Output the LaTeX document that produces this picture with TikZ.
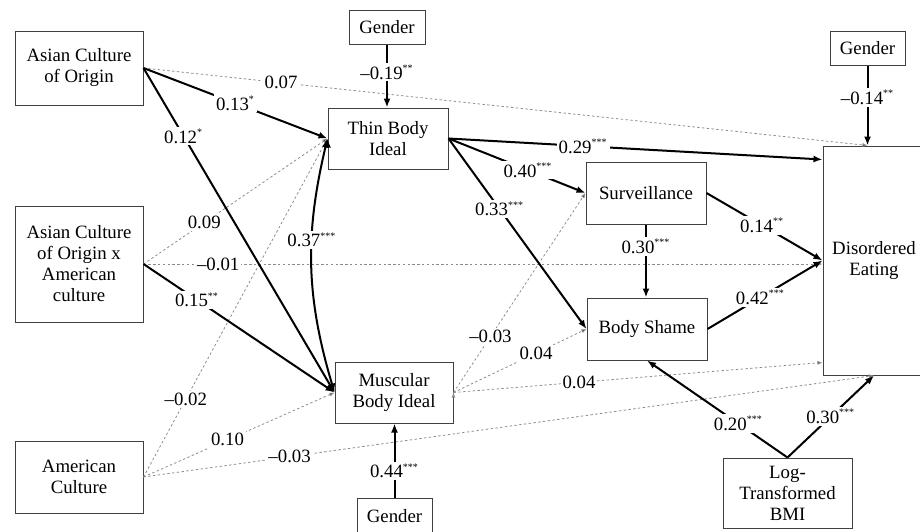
\documentclass[tikz,border=0pt]{standalone}
\usepackage{fontspec}
\setmainfont{Liberation Serif}
\usetikzlibrary{arrows.meta}

\begin{document}
\begin{tikzpicture}[x=0.5pt,y=-0.5pt]
	\tikzset{
		box/.style={
			draw=black!75,
			line width=0.5pt,
			align=center,
			inner sep=1pt,
			font=\fontsize{9.4}{10.5}\selectfont
		},
		coef/.style={
			auto=false,
			fill=white,
			text=black,
			inner sep=1pt,
			font=\fontsize{9.4}{10.5}\selectfont
		},
		strong/.style={
			line width=1pt,
			-{Latex[length=4.5pt,width=3.5pt]}
		},
		weak/.style={
			line width=0.4pt,
			draw=black!45,
			dash pattern=on 1.2pt off 1.2pt,
			-{Latex[length=2.5pt,width=2pt]}
		},
	}
	\useasboundingbox (0,0) rectangle (920,531);

	% variables
	\node[box, minimum width=64pt, minimum height=37pt] (aco) at (79,68) {Asian Culture\\of Origin};
	\node[box, minimum width=64pt, minimum height=58pt] (acoac) at (79,264) {Asian Culture\\of Origin x\\American\\culture};
	\node[box, minimum width=64pt, minimum height=36pt] (ac) at (79,477) {American\\Culture};
	\node[box, minimum width=38pt, minimum height=17pt] (gthin) at (387,27) {Gender};
	\node[box, minimum width=60pt, minimum height=30.5pt] (thin) at (388,138.5) {Thin Body\\Ideal};
	\node[box, minimum width=59pt, minimum height=30.5pt] (musc) at (394,392.5) {Muscular\\Body Ideal};
	\node[box, minimum width=37.5pt, minimum height=18pt] (gmusc) at (394.5,516) {Gender};
	\node[box, minimum width=60pt, minimum height=31pt] (surv) at (646,193) {Surveillance};
	\node[box, minimum width=60pt, minimum height=31pt] (shame) at (647,329) {Body Shame};
	\node[box, minimum width=37.5pt, minimum height=17pt] (gde) at (867.5,48) {Gender};
	\node[box, minimum width=51pt, minimum height=114.5pt] (de) at (874,260.5) {Disordered\\Eating};
	\node[box, minimum width=64.5pt, minimum height=35pt] (bmi) at (787.5,493) {Log-\\Transformed\\BMI};

	% non-significant paths
	\draw[weak]
	(aco.east) edge node[coef, pos=0.19] {0.07} (gde.south |- de.north)
	(acoac.east) edge node[coef, pos=0.33] {0.09} (thin.west)
	(acoac.east) edge node[coef, pos=0.11] {--0.01} (de.west |- acoac.east)
	(ac.east) edge node[coef, pos=0.23] {--0.02} (thin.west)
	(ac.east) edge node[coef, pos=0.44] {0.10} (musc.west)
	(ac.east) edge node[coef, pos=0.20] {--0.03} (de.south)
	(musc.east) edge node[coef, pos=0.28] {--0.03} (surv.west)
	(musc.east) edge node[coef, pos=0.62] {0.04} (shame.west)
	(musc.east) edge node[coef, pos=0.34] {0.04} ([yshift=6.5pt]de.south west);

	% significant paths
	\draw[strong]
	(aco.east) edge node[coef, pos=0.5] {0.13\textsuperscript{\tiny *}} (thin.west)
	(aco.east) edge node[coef, pos=0.21] {0.12\textsuperscript{\tiny *}} (musc.west)
	(acoac.east) edge node[coef, pos=0.28] {0.15\textsuperscript{\tiny **}} (musc.west)
	(gthin.south) edge node[coef, pos=0.44] {--0.19\textsuperscript{\tiny **}} (gthin.south |- thin.north)
	(gmusc.north) edge node[coef, pos=0.36] {0.44\textsuperscript{\tiny ***}} (gmusc.north |- musc.south)
	(thin.east) edge node[coef, pos=0.36] {0.29\textsuperscript{\tiny ***}} ([yshift=-7pt]de.north west)
	(thin.east) edge node[coef, pos=0.58] {0.40\textsuperscript{\tiny ***}} (surv.west)
	(thin.east) edge node[coef, pos=0.37] {0.33\textsuperscript{\tiny ***}} (shame.west)
	(surv.south) edge node[coef, pos=0.30] {0.30\textsuperscript{\tiny ***}} (surv.south |- shame.north)
	(surv.east) edge node[coef, pos=0.48] {0.14\textsuperscript{\tiny **}} (de.west)
	(shame.east) edge node[coef, pos=0.46] {0.42\textsuperscript{\tiny ***}} (de.west)
	(gde.south) edge node[coef, pos=0.40] {--0.14\textsuperscript{\tiny **}} (gde.south |- de.north)
	(bmi.north) edge node[coef, pos=0.35] {0.20\textsuperscript{\tiny ***}} (shame.south)
	(bmi.north) edge node[coef, pos=0.5] {0.30\textsuperscript{\tiny ***}} (de.south)
	(thin.west) edge[{Latex[length=4.5pt,width=3.5pt]}-{Latex[length=4.5pt,width=3.5pt]}, bend right=15] node[coef, pos=0.39] {0.37\textsuperscript{\tiny ***}} (musc.west);
\end{tikzpicture}
\end{document}
